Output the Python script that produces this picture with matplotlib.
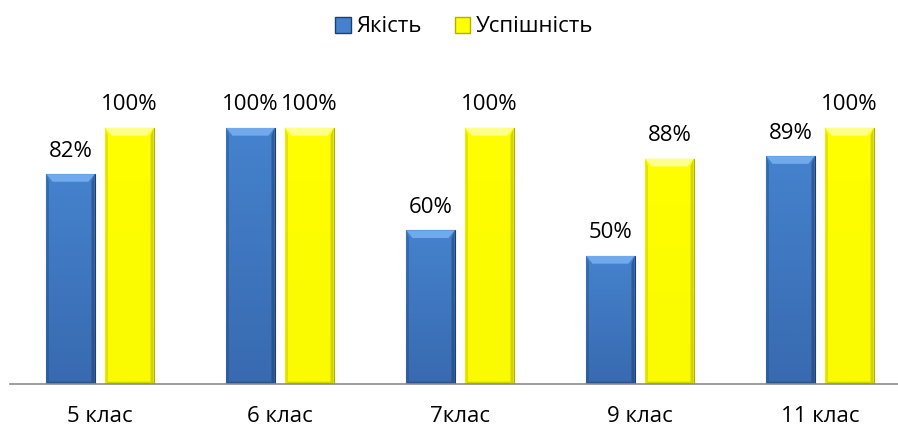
import numpy as np
import matplotlib.pyplot as plt
from matplotlib.patches import Polygon, Patch
from matplotlib.colors import LinearSegmentedColormap

plt.rcParams['font.family'] = ['Open Sans', 'DejaVu Sans']

classes = ['5 клас', '6 клас', '7клас', '9 клас', '11 клас']
quality = [0.82, 1.00, 0.60, 0.50, 0.89]
success = [1.00, 1.00, 1.00, 0.88, 1.00]
series_names = ['Якість', 'Успішність']

# colours: (top of body, bottom of body, bevel highlight, edge shadow)
blue = ('#4582cd', '#386ab0', '#70aaec', '#1d3f70')
yellow = ('#ffff00', '#fafa00', '#ffff8c', '#b0b000')

W, H = 898, 428
fig = plt.figure(figsize=(W / 100, H / 100), dpi=100)
ax = fig.add_axes([10 / W, 44 / H, 888 / W, 360 / H])

width = 0.267
offset = 0.164
x = np.arange(len(classes))
fs = 16


def bevel_bars(xs, vals, cols):
    top, bottom, hi, sh = cols
    bars = ax.bar(xs, vals, width, color=top, edgecolor=sh, linewidth=0.8, zorder=2)
    cmap = LinearSegmentedColormap.from_list('g', [bottom, top])
    grad = np.linspace(0, 1, 64).reshape(-1, 1)
    bx = 0.034  # bevel size in x (data)
    by = 0.03   # bevel size in y (data)
    for b in bars:
        x0 = b.get_x()
        x1 = x0 + b.get_width()
        h = b.get_height()
        im = ax.imshow(grad, cmap=cmap, origin='lower', aspect='auto',
                       extent=[x0, x1, 0, h], zorder=2.5, interpolation='bilinear')
        im.set_clip_path(b)
        # top highlight
        ax.add_patch(Polygon([[x0, h], [x1, h], [x1 - bx, h - by], [x0 + bx, h - by]],
                             closed=True, color=hi, lw=0, zorder=3))
        # right shadow
        ax.add_patch(Polygon([[x1, h], [x1, 0], [x1 - bx * 0.5, by * 0.3], [x1 - bx * 0.5, h - by]],
                             closed=True, color=sh, alpha=0.55, lw=0, zorder=3))
        # left shadow
        ax.add_patch(Polygon([[x0, h], [x0, 0], [x0 + bx * 0.4, by * 0.3], [x0 + bx * 0.4, h - by]],
                             closed=True, color=sh, alpha=0.35, lw=0, zorder=3))
        # bottom shadow
        ax.add_patch(Polygon([[x0, 0], [x1, 0], [x1 - bx * 0.5, by * 0.3], [x0 + bx * 0.4, by * 0.3]],
                             closed=True, color=sh, alpha=0.5, lw=0, zorder=3))
    return bars


b1 = bevel_bars(x - offset, quality, blue)
b2 = bevel_bars(x + offset, success, yellow)

for bars, vals in ((b1, quality), (b2, success)):
    for b, v in zip(bars, vals):
        ax.annotate(f'{v * 100:.0f}%', (b.get_x() + b.get_width() / 2, v),
                    xytext=(0, 9), textcoords='offset points',
                    ha='center', va='bottom', fontsize=fs)

ax.set_xlim(-0.5, -0.5 + 888 / 180)
ax.set_ylim(0, 360 / 256)
ax.set_xticks(x)
ax.set_xticklabels(classes, fontsize=fs)
ax.tick_params(axis='x', length=0, pad=16)
ax.set_yticks([])
for s in ['top', 'right', 'left']:
    ax.spines[s].set_visible(False)
ax.spines['bottom'].set_color('#8c8c8c')
ax.spines['bottom'].set_linewidth(1.2)
ax.spines['bottom'].set_zorder(4)

handles = [Patch(facecolor=blue[0], edgecolor=blue[3]),
           Patch(facecolor=yellow[0], edgecolor=yellow[3])]
fig.legend(handles, series_names, loc='center', bbox_to_anchor=(0.517, 1 - 27 / H),
           ncol=2, frameon=False, fontsize=fs, handlelength=0.7, handleheight=0.7,
           handletextpad=0.25, columnspacing=1.5)

fig.savefig('out.png', dpi=100)
